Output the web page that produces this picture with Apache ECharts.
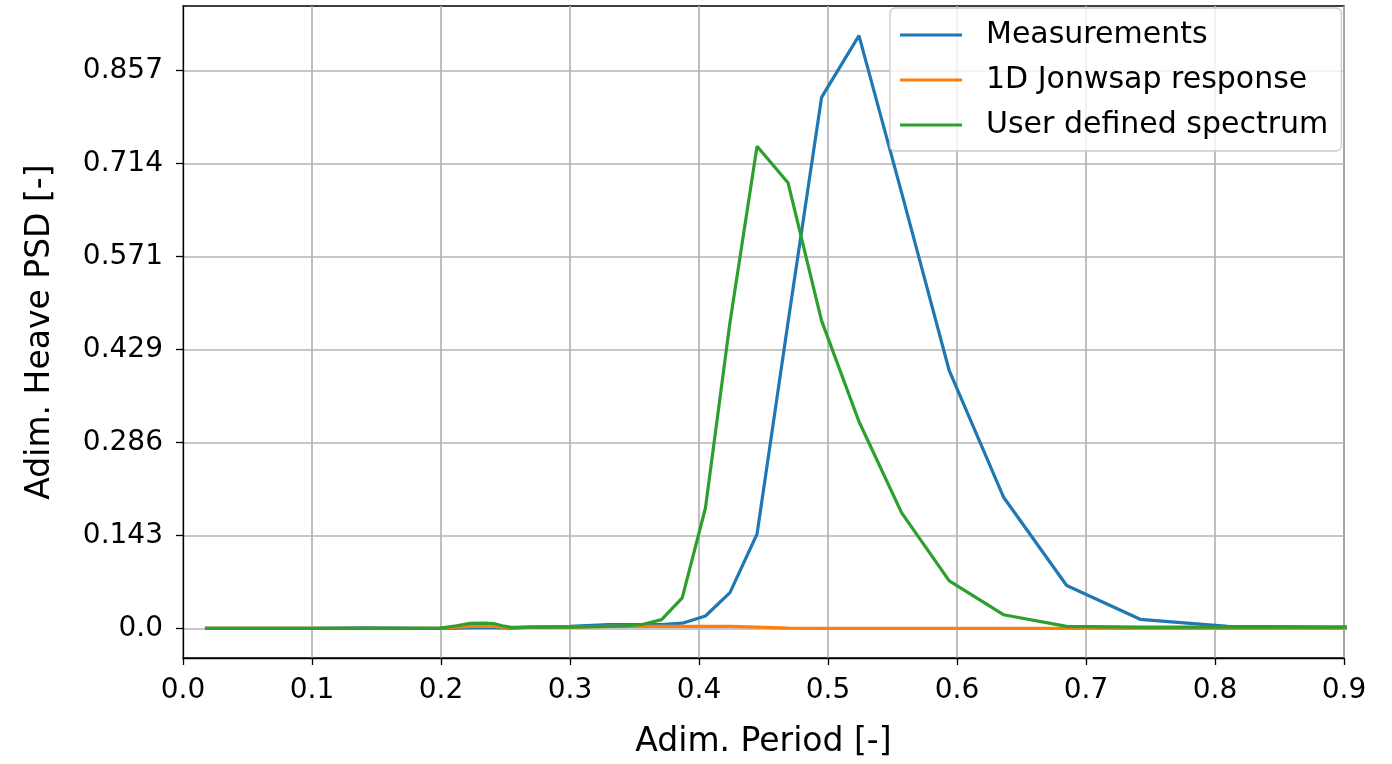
<!DOCTYPE html>
<html>
<head>
<meta charset="utf-8">
<script src="https://cdn.jsdelivr.net/npm/echarts@6/dist/echarts.min.js"></script>
<style>
  html, body { margin: 0; padding: 0; background: #ffffff; }
  #chart { width: 1392px; height: 764px; }
</style>
</head>
<body>
<div id="chart"></div>
<script>
// Adimensional period grid shared by all three spectra
const period = [0.017, 0.05, 0.1, 0.14, 0.198, 0.212, 0.2226, 0.2343, 0.2407, 0.2474, 0.2544,
  0.27, 0.3, 0.33, 0.343, 0.356, 0.371, 0.387, 0.405, 0.424, 0.445, 0.469, 0.495, 0.524,
  0.557, 0.594, 0.636, 0.685, 0.742, 0.81, 0.89, 0.99];

// Adimensional heave PSD
const measurements = [0, 0, 0, 0.001, 0, 0.0005, 0.001, 0.001, 0.001, 0.0008, 0.0005,
  0.002, 0.003, 0.006, 0.006, 0.006, 0.006, 0.008, 0.019, 0.055, 0.145, 0.47, 0.816, 0.911,
  0.67, 0.396, 0.202, 0.066, 0.014, 0.003, 0.002, 0.001];
const jonswapResponse = [0, 0, 0, 0, 0, 0.002, 0.003, 0.003, 0.003, 0.002, 0.001,
  0.002, 0.002, 0.003, 0.003, 0.003, 0.003, 0.003, 0.003, 0.003, 0.002, 0.0005, 0, 0,
  0, 0, 0, 0, 0, 0, 0, 0];
const userSpectrum = [0, 0, 0, 0, 0, 0.004, 0.0078, 0.008, 0.0075, 0.004, 0.0015,
  0.002, 0.002, 0.003, 0.004, 0.006, 0.0135, 0.047, 0.185, 0.47, 0.741, 0.685, 0.473, 0.318,
  0.178, 0.073, 0.021, 0.003, 0.002, 0.002, 0.002, 0.002];

const seriesNames = ['Measurements', '1D Jonwsap response', 'User defined spectrum'];
const seriesColors = ['#1f77b4', '#ff7f0e', '#2ca02c'];

// Axis ticks
const xTicks = [0, 0.1, 0.2, 0.3, 0.4, 0.5, 0.6, 0.7, 0.8, 0.9];
const yTicks = [0, 1 / 7, 2 / 7, 3 / 7, 4 / 7, 5 / 7, 6 / 7];

const FONT = 'DejaVu Sans';

function pairs(ys) {
  return period.map((p, i) => [p, ys[i]]);
}

function lineSeries(name, ys, color) {
  return {
    name: name,
    type: 'line',
    data: pairs(ys),
    showSymbol: false,
    symbol: 'none',
    smooth: false,
    clip: true,
    lineStyle: { color: color, width: 3.2 },
    itemStyle: { color: color },
    emphasis: { disabled: true },
    animation: false
  };
}

const chart = echarts.init(document.getElementById('chart'), null, { renderer: 'canvas' });

chart.setOption({
  backgroundColor: '#ffffff',
  animation: false,
  grid: {
    left: 183, right: 48, top: 6, bottom: 104,
    show: true,
    borderColor: '#000000',
    borderWidth: 1.3,
    backgroundColor: 'transparent'
  },
  legend: {
    orient: 'vertical',
    left: 890,
    top: 8,
    padding: [10, 13, 9, 10],
    itemWidth: 62,
    itemHeight: 3,
    itemGap: 11,
    icon: 'rect',
    backgroundColor: 'rgba(255,255,255,0.8)',
    borderColor: '#cccccc',
    borderWidth: 1.3,
    borderRadius: 5,
    textStyle: {
      fontFamily: FONT,
      fontSize: 30,
      lineHeight: 34,
      color: '#000000',
      padding: [0, 0, 0, 19]
    },
    data: seriesNames
  },
  xAxis: {
    type: 'value',
    min: xTicks[0],
    max: xTicks[xTicks.length - 1],
    interval: 0.1,
    name: 'Adim. Period [-]',
    nameLocation: 'middle',
    nameGap: 68,
    nameTextStyle: { fontFamily: FONT, fontSize: 33, color: '#000000' },
    axisLine: { show: true, onZero: false, lineStyle: { color: '#000000', width: 1.3 } },
    axisTick: { show: true, inside: false, length: 7, lineStyle: { color: '#000000', width: 1.3 } },
    axisLabel: {
      fontFamily: FONT, fontSize: 28, color: '#000000', margin: 19,
      formatter: v => v.toFixed(1)
    },
    splitLine: { show: true, lineStyle: { color: '#b4b4b4', width: 1.7 } }
  },
  yAxis: {
    type: 'value',
    min: -0.0455,
    max: 0.9565,
    name: 'Adim. Heave PSD [-]',
    nameLocation: 'middle',
    nameGap: 126,
    nameTextStyle: { fontFamily: FONT, fontSize: 33, color: '#000000' },
    axisLine: { show: true, onZero: false, lineStyle: { color: '#000000', width: 1.3 } },
    axisTick: { show: true, inside: false, length: 7, customValues: yTicks,
      lineStyle: { color: '#000000', width: 1.3 } },
    axisLabel: {
      fontFamily: FONT, fontSize: 28, color: '#000000', margin: 20,
      customValues: yTicks,
      formatter: v => (Math.abs(v) < 1e-9 ? '0.0' : v.toFixed(3))
    },
    splitLine: { show: true, lineStyle: { color: '#b4b4b4', width: 1.7 } }
  },
  series: [
    lineSeries(seriesNames[0], measurements, seriesColors[0]),
    lineSeries(seriesNames[1], jonswapResponse, seriesColors[1]),
    lineSeries(seriesNames[2], userSpectrum, seriesColors[2])
  ]
});
</script>
</body>
</html>
